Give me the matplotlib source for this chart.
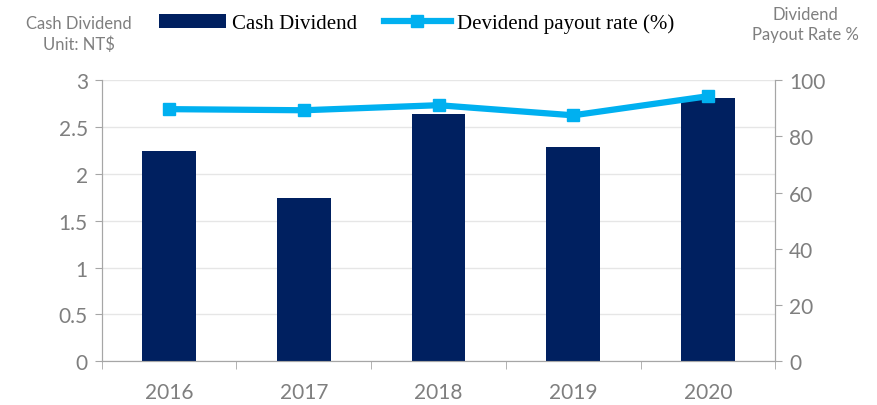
import numpy as np
import matplotlib.pyplot as plt
from matplotlib.ticker import FixedLocator

years = ['2016', '2017', '2018', '2019', '2020']
cash_div = [2.24, 1.74, 2.64, 2.29, 2.81]
payout = [89.7, 89.3, 91.1, 87.5, 94.3]

navy = '#002060'
cyan = '#00B0F0'
gray = '#7f7f7f'
axcol = '#a6a6a6'
sans = ['Lato', 'DejaVu Sans']

fig = plt.figure(figsize=(8.77, 4.06), dpi=100)
ax = fig.add_axes([0.116, 0.108, 0.768, 0.692])
ax2 = ax.twinx()

x = np.arange(len(years))
bars = ax.bar(x, cash_div, width=0.4, color=navy, zorder=3, label='Cash Dividend')
line, = ax2.plot(x, payout, color=cyan, lw=4.5, marker='s', ms=9, label='Devidend payout rate (%)', zorder=4)

ax.set_xlim(-0.5, 4.5)
ax.set_ylim(0, 3)
ax.set_yticks(np.arange(0, 3.01, 0.5))
ax.set_yticklabels(['0', '0.5', '1', '1.5', '2', '2.5', '3'])
ax2.set_ylim(0, 100)
ax2.set_yticks(range(0, 101, 20))

ax.grid(axis='y', color='#e6e6e6', lw=1, zorder=0)
ax.set_xticks(x)
ax.set_xticklabels(years)
ax.xaxis.set_minor_locator(FixedLocator(np.arange(-0.5, 4.6, 1)))
ax.tick_params(axis='x', which='major', length=0, pad=15)
ax.tick_params(axis='x', which='minor', length=6, color=axcol, direction='out')
ax.tick_params(axis='y', length=5, color=axcol, pad=5)
ax2.tick_params(axis='y', length=5, color=axcol, pad=5)

for a in (ax, ax2):
    for s in a.spines.values():
        s.set_color(axcol)
    a.spines['top'].set_visible(False)
    for lab in a.get_xticklabels() + a.get_yticklabels():
        lab.set_fontfamily(sans)
        lab.set_fontsize(15)
        lab.set_color(gray)

fig.text(0.09, 0.915, 'Cash Dividend\nUnit: NT$', ha='center', va='center',
         fontsize=12, color=gray, family=sans, linespacing=1.4)
fig.text(0.918, 0.938, 'Dividend\nPayout Rate %', ha='center', va='center',
         fontsize=12, color=gray, family=sans, linespacing=1.3)

leg = fig.legend([bars, line], ['Cash Dividend', 'Devidend payout rate (%)'],
                 loc='center', bbox_to_anchor=(0.475, 0.94), ncol=2, frameon=False,
                 prop={'family': 'Liberation Serif', 'size': 15},
                 handlelength=3.2, handletextpad=0.3, columnspacing=1.3)

fig.savefig('out.png', dpi=100)
